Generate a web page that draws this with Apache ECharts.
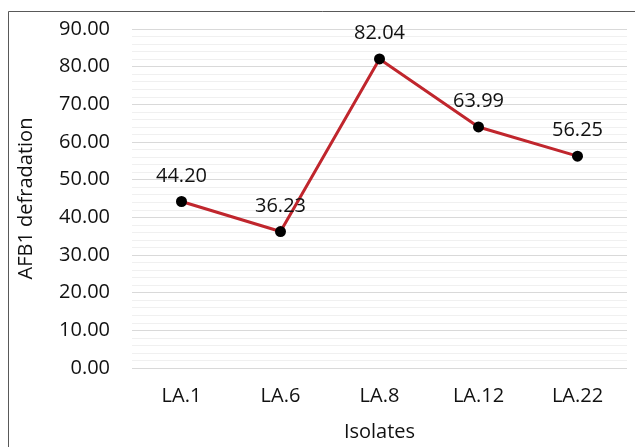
<!DOCTYPE html>
<html lang="en">
<head>
    <meta charset="UTF-8">
    <title>AFB1 degradation by isolates</title>
    <script src="https://cdn.jsdelivr.net/npm/echarts@6/dist/echarts.min.js"></script>
    <style>
        html, body { margin: 0; padding: 0; background: #fff; }
        #chart { width: 635px; height: 447px; }
    </style>
</head>
<body>
<div id="chart"></div>
<script type="text/javascript">
    const isolates = ["LA.1", "LA.6", "LA.8", "LA.12", "LA.22"];
    const degradation = [44.20, 36.23, 82.04, 63.99, 56.25];
    const y_min = 0;
    const y_max = 90;
    const y_step = 10;

    const font = "'Open Sans', 'Noto Sans', sans-serif";
    const text_color = "#111";
    const font_size = 20;

    const chart = echarts.init(document.getElementById("chart"));
    chart.setOption({
        animation: false,
        backgroundColor: "#fff",
        graphic: [{
            type: "rect",
            silent: true,
            shape: { x: 8.5, y: 11.5, width: 800, height: 600 },
            style: { fill: "none", stroke: "#595959", lineWidth: 1 }
        }],
        grid: { left: 132, right: 8, top: 29, bottom: 79 },
        xAxis: {
            type: "category",
            data: isolates,
            boundaryGap: true,
            name: "Isolates",
            nameLocation: "middle",
            nameGap: 54,
            nameTextStyle: { fontFamily: font, fontSize: font_size, color: text_color },
            axisLine: { show: false },
            axisTick: { show: false },
            axisLabel: { fontFamily: font, fontSize: font_size, color: text_color, margin: 18 }
        },
        yAxis: {
            type: "value",
            min: y_min,
            max: y_max,
            interval: y_step,
            name: "AFB1 defradation",
            nameLocation: "middle",
            nameGap: 96,
            nameTextStyle: { fontFamily: font, fontSize: font_size, color: text_color },
            axisLine: { show: false },
            axisTick: { show: false },
            axisLabel: {
                fontFamily: font, fontSize: font_size, color: text_color, margin: 22,
                formatter: (v) => v.toFixed(2)
            },
            splitLine: { lineStyle: { color: "#d9d9d9", width: 1 } },
            minorTick: { show: false, splitNumber: 5 },
            minorSplitLine: { show: true, lineStyle: { color: "#f0f0f0", width: 1 } }
        },
        series: [{
            type: "line",
            data: degradation,
            symbol: "circle",
            symbolSize: 11,
            lineStyle: { color: "#c0262d", width: 3 },
            itemStyle: { color: "#000" },
            label: {
                show: true,
                position: "top",
                distance: 10,
                fontFamily: font,
                fontSize: font_size,
                color: text_color,
                formatter: (p) => p.value.toFixed(2)
            }
        }]
    });
</script>
</body>
</html>
